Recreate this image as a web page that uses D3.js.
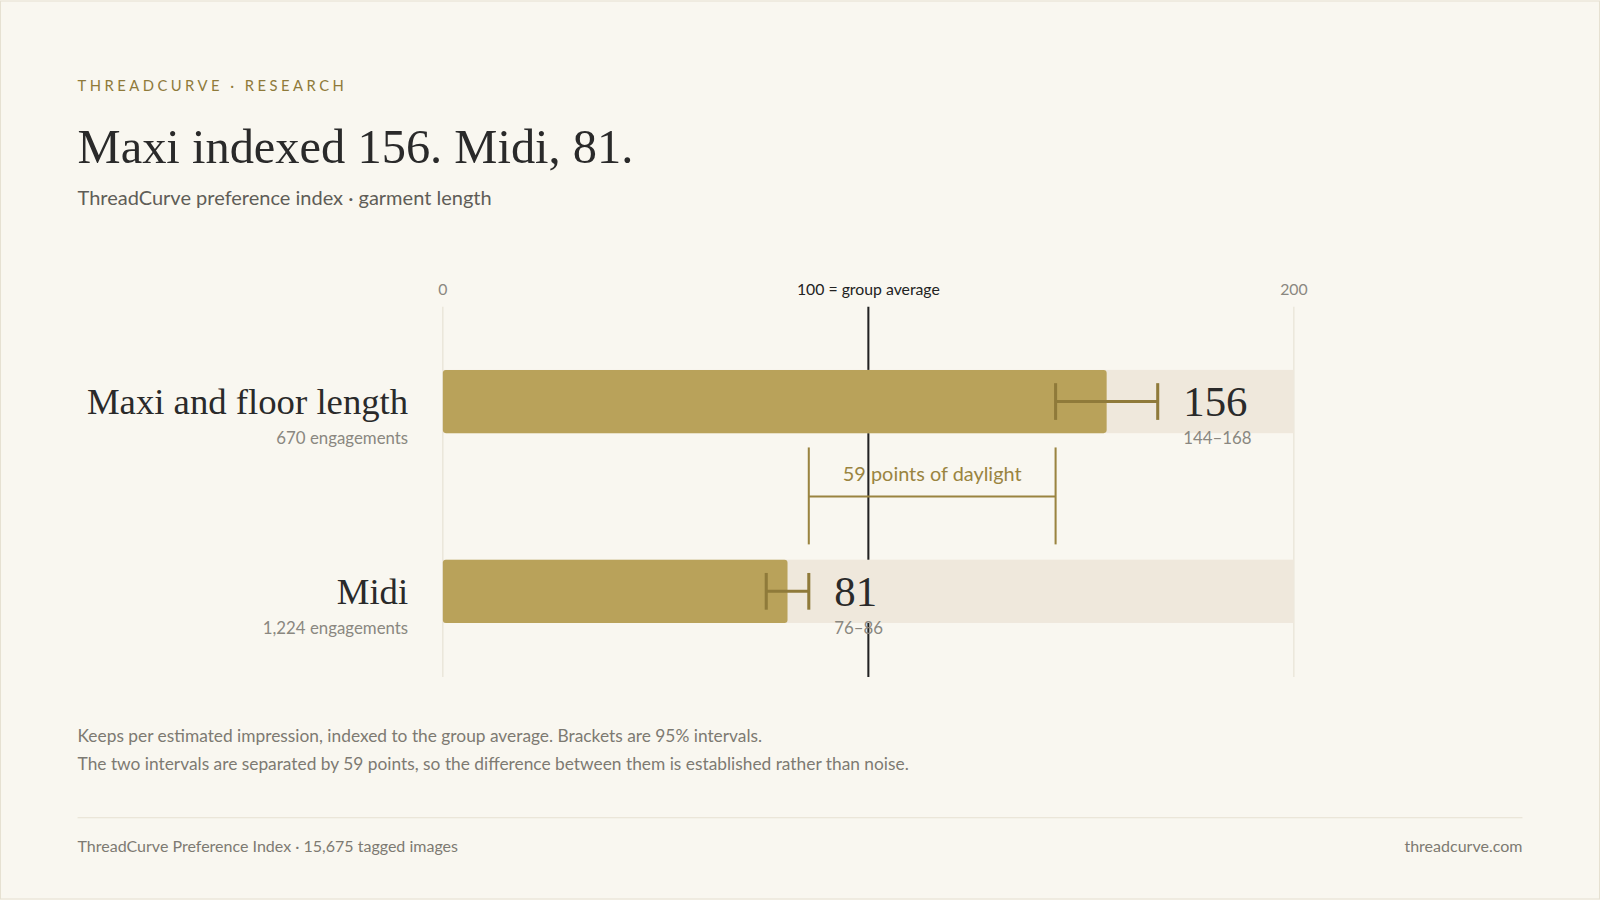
<!DOCTYPE html>
<html><head><meta charset="utf-8">
<script src="https://cdn.jsdelivr.net/npm/d3@7"></script>
<style>
body{margin:0;background:#f9f7f0;}
svg{display:block;}
text{font-family:Lato,"Open Sans",sans-serif;}
.serif{font-family:"Liberation Serif","DejaVu Serif",serif;}
</style></head><body>
<script>
const categories = ['Maxi and floor length', 'Midi'],
    engagements = ['670 engagements', '1,224 engagements'],
    values = [156, 81],
    lows = [144, 76],
    highs = [168, 86],
    gapPoints = 59,
    tickValues = [0, 100, 200],
    tickLabels = ['0', '100 = group average', '200'];

const W = 1568, H = 881,
    gold = '#b9a25a', dark = '#8f7a3a';

const svg = d3.select('body').append('svg')
    .attr('width', 1600).attr('height', 900)
    .attr('viewBox', `0 0 ${W} ${H}`);

svg.append('rect').attr('x', 0.5).attr('y', 0.5).attr('width', W - 1).attr('height', H - 1)
    .attr('fill', '#f9f7f0').attr('stroke', '#e6e1d2');

const x = d3.scaleLinear().domain([0, 200]).range([434, 1268]);
const y = d3.scaleBand().domain(categories).range([362, 610]).paddingInner(2 / 3).paddingOuter(0);
const yc = d => y(d) + y.bandwidth() / 2;

// header
svg.append('text').attr('x', 76).attr('y', 89).text('THREADCURVE · RESEARCH')
    .attr('font-size', 14.5).attr('letter-spacing', 3.4).attr('fill', dark);
svg.append('text').attr('class', 'serif').attr('x', 76).attr('y', 159)
    .text('Maxi indexed 156. Midi, 81.').attr('font-size', 47.5).attr('fill', '#2a2a2a');
svg.append('text').attr('x', 76).attr('y', 200).text('ThreadCurve preference index · garment length')
    .attr('font-size', 19.6).attr('fill', '#5f5d57');

// grid + axis labels
svg.selectAll('.grid').data([0, 200]).join('line')
    .attr('x1', d => x(d)).attr('x2', d => x(d)).attr('y1', 300).attr('y2', 663)
    .attr('stroke', '#e4dfd0');
svg.append('line').attr('x1', x(100)).attr('x2', x(100)).attr('y1', 300).attr('y2', 663)
    .attr('stroke', '#222').attr('stroke-width', 2);
svg.selectAll('.tick').data(tickValues).join('text')
    .attr('x', d => x(d)).attr('y', 289).attr('text-anchor', 'middle')
    .attr('font-size', 15.5).attr('fill', (d, i) => i === 1 ? '#222' : '#8a8780')
    .text((d, i) => tickLabels[i]);

// tracks and bars
svg.selectAll('.track').data(categories).join('rect')
    .attr('x', x(0)).attr('y', d => y(d)).attr('width', x(200) - x(0)).attr('height', y.bandwidth())
    .attr('fill', '#efe8dc');
svg.selectAll('.bar').data(categories).join('rect')
    .attr('x', x(0)).attr('y', d => y(d)).attr('width', (d, i) => x(values[i]) - x(0))
    .attr('height', y.bandwidth()).attr('rx', 3).attr('fill', gold);

// error bars and labels
categories.forEach((c, i) => {
    const g = svg.append('g').attr('stroke', dark).attr('stroke-width', 3);
    g.append('line').attr('x1', x(lows[i])).attr('x2', x(highs[i])).attr('y1', yc(c)).attr('y2', yc(c));
    [lows[i], highs[i]].forEach(v => g.append('line').attr('x1', x(v)).attr('x2', x(v))
        .attr('y1', yc(c) - 18).attr('y2', yc(c) + 18));
    svg.append('text').attr('class', 'serif').attr('x', x(highs[i]) + 25).attr('y', yc(c) + 14)
        .attr('font-size', 42).attr('fill', '#2a2a2a').text(values[i]);
    svg.append('text').attr('x', x(highs[i]) + 25).attr('y', yc(c) + 42)
        .attr('font-size', 16.5).attr('fill', '#8a8780').text(`${lows[i]}–${highs[i]}`);
    svg.append('text').attr('class', 'serif').attr('x', 400).attr('y', yc(c) + 12)
        .attr('text-anchor', 'end').attr('font-size', 36).attr('fill', '#2a2a2a').text(c);
    svg.append('text').attr('x', 400).attr('y', yc(c) + 42)
        .attr('text-anchor', 'end').attr('font-size', 16.5).attr('fill', '#8a8780').text(engagements[i]);
});

// gap bracket
const gapA = highs[1], gapB = lows[0];
const bg = svg.append('g').attr('stroke', '#9a8440').attr('stroke-width', 2);
bg.append('line').attr('x1', x(gapA)).attr('x2', x(gapB)).attr('y1', 486).attr('y2', 486);
[gapA, gapB].forEach(v => bg.append('line').attr('x1', x(v)).attr('x2', x(v)).attr('y1', 438).attr('y2', 533));
svg.append('text').attr('x', (x(gapA) + x(gapB)) / 2).attr('y', 471).attr('text-anchor', 'middle')
    .attr('font-size', 19.5).attr('fill', '#9a8440').text(`${gapPoints} points of daylight`);

// notes
svg.append('text').attr('x', 76).attr('y', 727).attr('font-size', 17).attr('fill', '#7d7a72')
    .text('Keeps per estimated impression, indexed to the group average. Brackets are 95% intervals.');
svg.append('text').attr('x', 76).attr('y', 754).attr('font-size', 17).attr('fill', '#7d7a72')
    .text('The two intervals are separated by 59 points, so the difference between them is established rather than noise.');

// footer
svg.append('line').attr('x1', 76).attr('x2', 1492).attr('y1', 801).attr('y2', 801).attr('stroke', '#e6e1d2');
svg.append('text').attr('x', 76).attr('y', 834).attr('font-size', 15.7).attr('fill', '#7d7a72')
    .text('ThreadCurve Preference Index · 15,675 tagged images');
svg.append('text').attr('x', 1492).attr('y', 834).attr('text-anchor', 'end').attr('font-size', 15.7).attr('fill', '#7d7a72')
    .text('threadcurve.com');
</script>
</body></html>
